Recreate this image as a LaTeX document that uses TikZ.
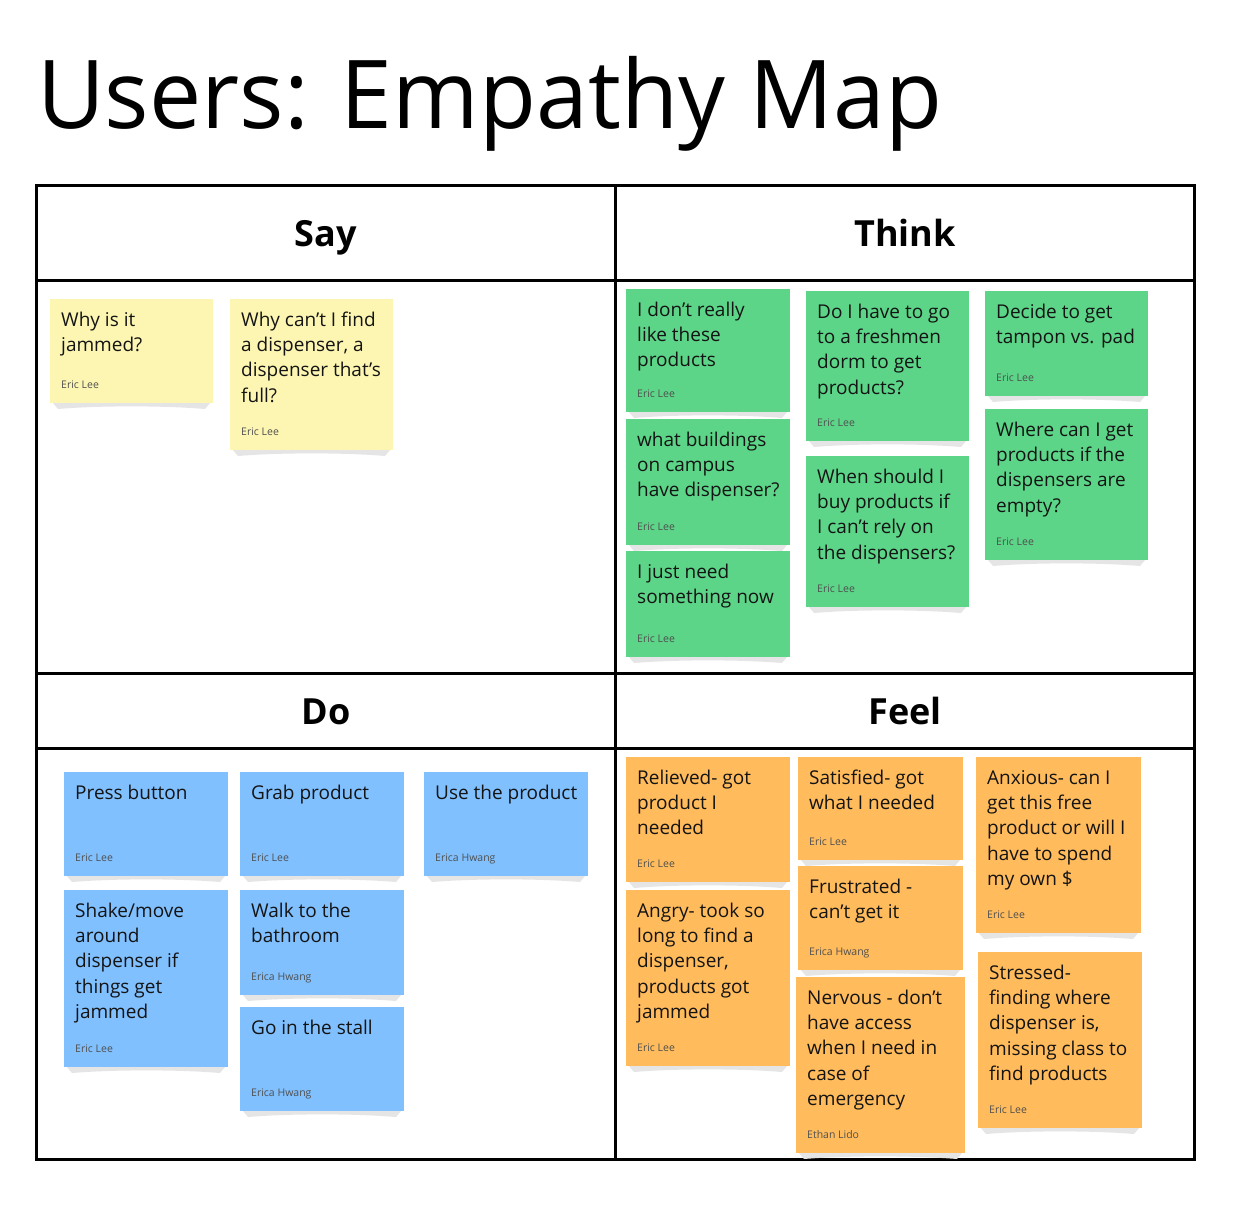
\documentclass[tikz,border=0pt]{standalone}
\usepackage{fontspec}
\setmainfont{Open Sans}
\definecolor{ycol}{RGB}{253,246,178}
\definecolor{gcol}{RGB}{92,213,136}
\definecolor{bcol}{RGB}{128,192,255}
\definecolor{ocol}{RGB}{255,187,92}
\definecolor{authcol}{RGB}{80,80,80}
\definecolor{txtcol}{RGB}{20,20,20}
\tikzset{
  notebox/.style={anchor=north west, inner sep=0pt, outer sep=0pt},
  notetext/.style={anchor=base west, inner sep=0pt, text=txtcol,
    font=\fontsize{19}{25.4}\selectfont},
  noteauthor/.style={anchor=base west, inner sep=0pt, text=authcol,
    font=\fontsize{10.5}{12}\selectfont},
  headtext/.style={font=\fontsize{36}{40}\selectfont\bfseries, anchor=base},
  gridline/.style={line width=3pt, black},
  shadowcol/.style={fill=black!10}
}
\newcommand\stickynote[8]{%
  \fill[shadowcol] (#2+3,#3+#5) -- (#2+#4-3,#3+#5) -- (#2+#4-8,#3+#5+6)
     .. controls (#2+0.7*#4,#3+#5+2.5) and (#2+0.3*#4,#3+#5+2.5) .. (#2+8,#3+#5+6) -- cycle;
  \node[notebox, fill=#6, minimum width=#4pt, minimum height=#5pt] (#1) at (#2,#3) {};
  \node[notetext] (#1-t) at ([shift={(11,27)}]#1.north west)
     {\begin{tabular}[t]{@{}l@{}}#7\end{tabular}};
  \node[noteauthor] (#1-a) at ([shift={(11,-15)}]#1.south west) {#8};
}
\begin{document}
\begin{tikzpicture}[x=1pt,y=-1pt]
\useasboundingbox (0,0) rectangle (1253,1224);
\fill[white] (0,0) rectangle (1253,1224);
% title
\node[anchor=base west, inner sep=0pt, font=\fontsize{95}{95}\selectfont, xscale=0.98] (title) at (37,128) {Users: Empathy Map};
% grid
\draw[gridline] (36,185) rectangle (1194,1159);
\draw[gridline] (36,280) -- (1194,280);
\draw[gridline] (36,673) -- (1194,673);
\draw[gridline] (36,748) -- (1194,748);
\draw[gridline] (615,185) -- (615,1159);
% headers
\node[headtext] (say) at (326,246) {Say};
\node[headtext] (think) at (905,246) {Think};
\node[headtext] (do) at (326,724) {Do};
\node[headtext] (feel) at (905,724) {Feel};
% Say
\stickynote{y1}{50}{299}{163}{104}{ycol}{Why is it\\jammed?}{Eric Lee}
\stickynote{y2}{230}{299}{163}{151}{ycol}{Why can’t I find\\a dispenser, a\\dispenser that’s\\full?}{Eric Lee}
% Think
\stickynote{g1}{626}{289}{164}{123}{gcol}{I don’t really\\like these\\products}{Eric Lee}
\stickynote{g2}{626}{419}{164}{126}{gcol}{what buildings\\on campus\\have dispenser?}{Eric Lee}
\stickynote{g3}{626}{551}{164}{106}{gcol}{I just need\\something now}{Eric Lee}
\stickynote{g4}{806}{291}{163}{150}{gcol}{Do I have to go\\to a freshmen\\dorm to get\\products?}{Eric Lee}
\stickynote{g5}{806}{456}{163}{151}{gcol}{When should I\\buy products if\\I can’t rely on\\the dispensers?}{Eric Lee}
\stickynote{g6}{985}{291}{163}{105}{gcol}{Decide to get\\tampon vs. pad}{Eric Lee}
\stickynote{g7}{985}{409}{163}{151}{gcol}{Where can I get\\products if the\\dispensers are\\empty?}{Eric Lee}
% Do
\stickynote{b1}{64}{772}{164}{104}{bcol}{Press button}{Eric Lee}
\stickynote{b2}{240}{772}{164}{104}{bcol}{Grab product}{Eric Lee}
\stickynote{b3}{424}{772}{164}{104}{bcol}{Use the product}{Erica Hwang}
\stickynote{b4}{64}{890}{164}{177}{bcol}{Shake/move\\around\\dispenser if\\things get\\jammed}{Eric Lee}
\stickynote{b5}{240}{890}{164}{105}{bcol}{Walk to the\\bathroom}{Erica Hwang}
\stickynote{b6}{240}{1007}{164}{104}{bcol}{Go in the stall}{Erica Hwang}
% Feel
\stickynote{o1}{626}{757}{164}{125}{ocol}{Relieved- got\\product I\\needed}{Eric Lee}
\stickynote{o2}{626}{890}{164}{176}{ocol}{Angry- took so\\long to find a\\dispenser,\\products got\\jammed}{Eric Lee}
\stickynote{o3}{798}{757}{165}{103}{ocol}{Satisfied- got\\what I needed}{Eric Lee}
\stickynote{o4}{798}{866}{165}{104}{ocol}{Frustrated -\\can’t get it}{Erica Hwang}
\stickynote{o5}{796}{977}{169}{176}{ocol}{Nervous - don’t\\have access\\when I need in\\case of\\emergency}{Ethan Lido}
\stickynote{o6}{976}{757}{165}{176}{ocol}{Anxious- can I\\get this free\\product or will I\\have to spend\\my own \$}{Eric Lee}
\stickynote{o7}{978}{952}{164}{176}{ocol}{Stressed-\\finding where\\dispenser is,\\missing class to\\find products}{Eric Lee}
\end{tikzpicture}
\end{document}
